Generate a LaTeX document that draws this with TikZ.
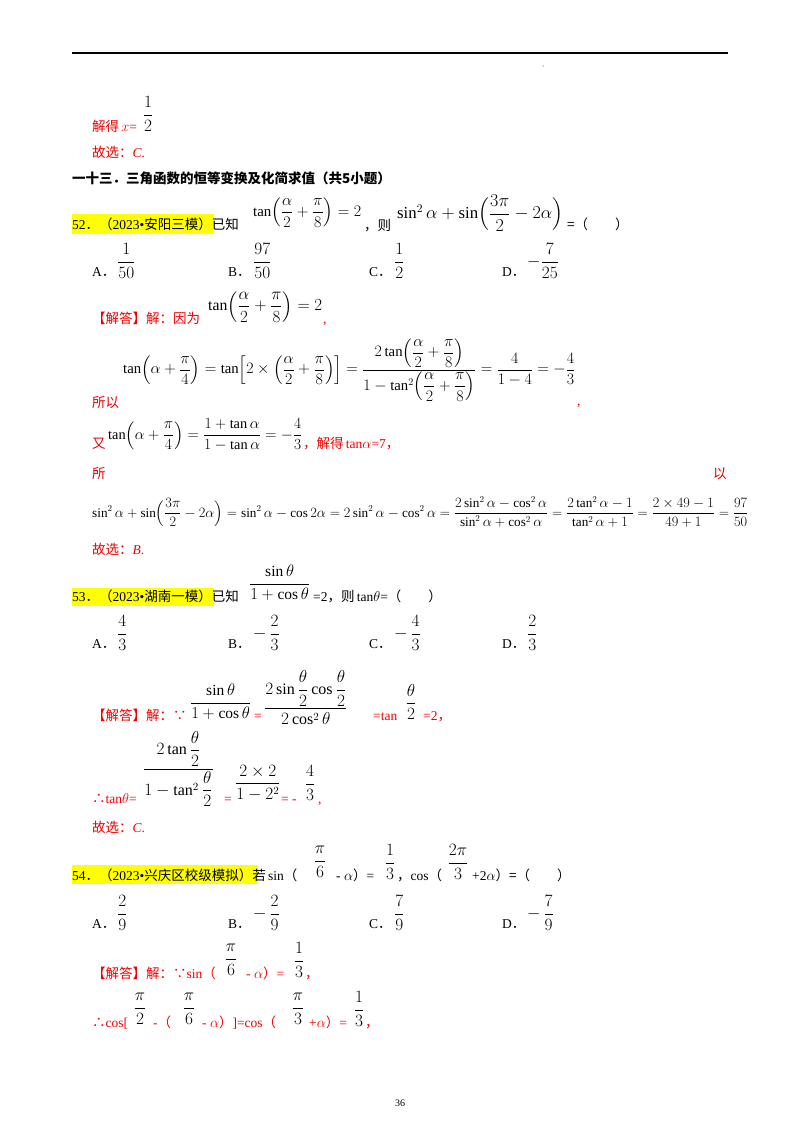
\documentclass[tikz,border=0pt]{standalone}
\usepackage{amsmath}
\usepackage{fontspec}
\setmainfont{Liberation Serif}
\newfontfamily\cjk{Noto Sans CJK SC}
\newcommand\cj[1]{{\cjk #1}}
\newcommand\fs{\fontsize{13.5}{15}\selectfont}
\newcommand\mfs{\fontsize{16}{18}\selectfont}
\definecolor{ansred}{RGB}{240,0,0}
\definecolor{hl}{RGB}{255,255,0}
\tikzset{t/.style={anchor=base west,font=\fs,inner sep=0pt},
 rt/.style={t,text=ansred},
 m/.style={anchor=west,font=\mfs,inner sep=0pt},
 mc/.style={anchor=center,font=\mfs,inner sep=0pt}}
\newcommand\optn[4]{\node[t] at (#1,#2) {#3}; \node[m] at (#1+25,#2-15) {$#4$};}
\begin{document}
\begin{tikzpicture}[x=1pt,y=-1pt]
\useasboundingbox (0,0) rectangle (800,1132);
\fill[white] (0,0) rectangle (800,1132);
\draw[line width=1.3pt] (72,53) -- (728,53);
\fill (543,66) circle (0.5);
% top
\node[rt] (a1) at (92,131) {\cj{解得}\,$x$=};
\node[mc] (a2) at (148,114) {$\dfrac{1}{2}$};
\node[rt] (a3) at (92,157) {\cj{故选：}\itshape C\upshape .};
\node[t,font=\fontsize{13.5}{15}\selectfont] (h) at (72,183) {\cjk\bfseries 一十三．三角函数的恒等变换及化简求值（共5小题）};
% 52
\fill[hl] (72,214) rectangle (214,234);
\node[t] (q52) at (72,229) {52\cj{．（}2023•\cj{安阳三模）已知}};
\node[m] (q52a) at (253,213) {\resizebox{108pt}{!}{$\tan\Bigl(\dfrac{\alpha}{2}+\dfrac{\pi}{8}\Bigr)=2$}};
\node[t] (q52b) at (364,230) {\cj{，则}};
\node[m] (q52c) at (397,213) {\resizebox{166pt}{!}{$\sin^2\alpha+\sin\Bigl(\dfrac{3\pi}{2}-2\alpha\Bigr)$}};
\node[t] (q52d) at (567,229) {\cj{=（　　）}};
\optn{92}{276}{A\cj{．}}{\dfrac{1}{50}}
\optn{228}{276}{B\cj{．}}{\dfrac{97}{50}}
\optn{369}{276}{C\cj{．}}{\dfrac{1}{2}}
\optn{502}{276}{D\cj{．}}{-\dfrac{7}{25}}
\node[rt] (s1) at (92,323) {\cj{【解答】解：因为}};
\node[m] (s1a) at (208,307) {\resizebox{114pt}{!}{$\tan\Bigl(\dfrac{\alpha}{2}+\dfrac{\pi}{8}\Bigr)=2$}};
\node[rt] (s1b) at (323,323) {,};
\node[m] (s2) at (123,370) {\resizebox{452pt}{!}{$\tan\Bigl(\alpha+\dfrac{\pi}{4}\Bigr)=\tan\Bigl[2\times\Bigl(\dfrac{\alpha}{2}+\dfrac{\pi}{8}\Bigr)\Bigr]=\dfrac{2\tan\Bigl(\dfrac{\alpha}{2}+\dfrac{\pi}{8}\Bigr)}{1-\tan^2\Bigl(\dfrac{\alpha}{2}+\dfrac{\pi}{8}\Bigr)}=\dfrac{4}{1-4}=-\dfrac{4}{3}$}};
\node[rt] (s2a) at (92,407) {\cj{所以}};
\node[rt] (s2b) at (577,405) {,};
\node[rt] (s3) at (92,448) {\cj{又}};
\node[m] (s3a) at (108,435) {\resizebox{194pt}{!}{$\tan\Bigl(\alpha+\dfrac{\pi}{4}\Bigr)=\dfrac{1+\tan\alpha}{1-\tan\alpha}=-\dfrac{4}{3}$}};
\node[rt] (s3b) at (303,448) {\cj{，解得}\,tan$\alpha$=7\cj{，}};
\node[rt] (s4) at (92,478) {\cj{所}};
\node[rt] (s4a) at (713,478) {\cj{以}};
\node[m] (s5) at (92,512) {\resizebox{656pt}{!}{$\sin^2\alpha+\sin\Bigl(\dfrac{3\pi}{2}-2\alpha\Bigr)=\sin^2\alpha-\cos2\alpha=2\sin^2\alpha-\cos^2\alpha=\dfrac{2\sin^2\alpha-\cos^2\alpha}{\sin^2\alpha+\cos^2\alpha}=\dfrac{2\tan^2\alpha-1}{\tan^2\alpha+1}=\dfrac{2\times49-1}{49+1}=\dfrac{97}{50}$}};
\node[rt] (s6) at (92,554) {\cj{故选：}\itshape B\upshape .};
% 53
\fill[hl] (72,588) rectangle (214,606);
\node[t] (q53) at (72,601) {53\cj{．（}2023•\cj{湖南一模）已知}};
\node[m] (q53a) at (249,583) {\resizebox{61pt}{!}{$\dfrac{\sin\theta}{1+\cos\theta}$}};
\node[t] (q53b) at (313,601) {=2\cj{，则}\,tan$\theta$=\cj{（　　）}};
\optn{92}{648}{A\cj{．}}{\dfrac{4}{3}}
\optn{228}{648}{B\cj{．}}{-\,\dfrac{2}{3}}
\optn{369}{648}{C\cj{．}}{-\,\dfrac{4}{3}}
\optn{502}{648}{D\cj{．}}{\dfrac{2}{3}}
\node[rt] (t1) at (92,720) {\cj{【解答】解：∵}};
\node[m] (t1a) at (190,702) {\resizebox{61pt}{!}{$\dfrac{\sin\theta}{1+\cos\theta}$}};
\node[rt] (t1b) at (254,720) {=};
\node[m] (t1c) at (264,698) {$\dfrac{2\sin\dfrac{\theta}{2}\cos\dfrac{\theta}{2}}{2\cos^2\theta}$};
\node[rt] (t1d) at (373,720) {=tan};
\node[mc] (t1e) at (411,702) {$\dfrac{\theta}{2}$};
\node[rt] (t1f) at (423,720) {=2\cj{，}};
\node[rt] (t2) at (92,803) {\cj{∴}tan$\theta$=};
\node[m] (t2a) at (143,769) {$\dfrac{2\tan\dfrac{\theta}{2}}{1-\tan^2\dfrac{\theta}{2}}$};
\node[rt] (t2b) at (224,803) {=};
\node[m] (t2c) at (235,783) {$\dfrac{2\times2}{1-2^2}$};
\node[rt] (t2d) at (281,803) {= -};
\node[mc] (t2e) at (310,783) {$\dfrac{4}{3}$};
\node[rt] (t2f) at (318,803) {,};
\node[rt] (t3) at (92,832) {\cj{故选：}\itshape C\upshape .};
% 54
\fill[hl] (72,865) rectangle (258,884);
\node[t] (q54) at (72,880) {54\cj{．（}2023•\cj{兴庆区校级模拟）若}\,sin\cj{（}};
\node[mc] (q54a) at (320,862) {$\dfrac{\pi}{6}$};
\node[t] (q54b) at (336,880) {- $\alpha$\cj{）}=};
\node[mc] (q54c) at (390,862) {$\dfrac{1}{3}$};
\node[t] (q54d) at (397,880) {\cj{，}cos\cj{（}};
\node[mc] (q54e) at (458,862) {$\dfrac{2\pi}{3}$};
\node[t] (q54f) at (472,880) {+2$\alpha$\cj{）=（　　）}};
\optn{92}{928}{A\cj{．}}{\dfrac{2}{9}}
\optn{228}{928}{B\cj{．}}{-\,\dfrac{2}{9}}
\optn{369}{928}{C\cj{．}}{\dfrac{7}{9}}
\optn{502}{928}{D\cj{．}}{-\,\dfrac{7}{9}}
\node[rt] (u1) at (92,978) {\cj{【解答】解：∵}sin\cj{（}};
\node[mc] (u1a) at (231,960) {$\dfrac{\pi}{6}$};
\node[rt] (u1b) at (246,978) {- $\alpha$\cj{）}=};
\node[mc] (u1c) at (299,960) {$\dfrac{1}{3}$};
\node[rt] (u1d) at (305,978) {\cj{，}};
\node[rt] (u2) at (92,1027) {\cj{∴}cos[};
\node[mc] (u2a) at (140,1009) {$\dfrac{\pi}{2}$};
\node[rt] (u2b) at (153,1027) {-\cj{（}};
\node[mc] (u2c) at (189,1009) {$\dfrac{\pi}{6}$};
\node[rt] (u2d) at (202,1027) {- $\alpha$\cj{）}]=cos\cj{（}};
\node[mc] (u2e) at (298,1009) {$\dfrac{\pi}{3}$};
\node[rt] (u2f) at (309,1027) {+$\alpha$\cj{）}=};
\node[mc] (u2g) at (359,1009) {$\dfrac{1}{3}$};
\node[rt] (u2h) at (365,1027) {\cj{，}};
\node[font=\fontsize{10}{12}\selectfont] (pg) at (400,1103) {36};
\end{tikzpicture}
\end{document}
